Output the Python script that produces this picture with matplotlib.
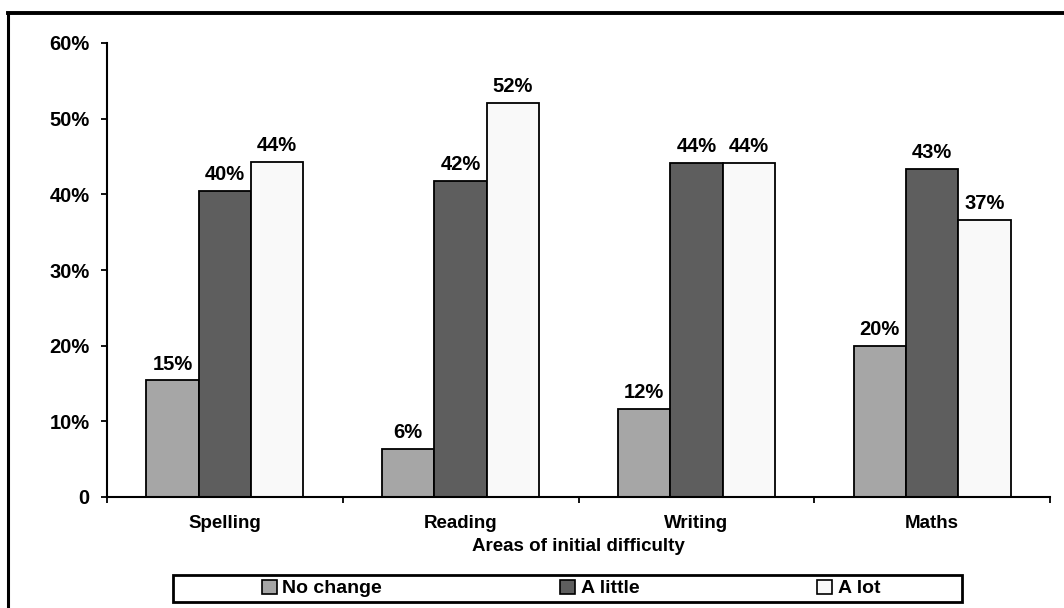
#!/usr/bin/env python3
"""Grouped bar chart: change in areas of initial difficulty."""

import matplotlib
matplotlib.use("Agg")
import matplotlib.pyplot as plt
from matplotlib.lines import Line2D
from matplotlib.patches import Rectangle, Patch
import numpy as np

categories = ["Spelling", "Reading", "Writing", "Maths"]
series_names = ["No change", "A little", "A lot"]
no_change = [15.4, 6.3, 11.6, 20.0]
a_little = [40.4, 41.8, 44.2, 43.4]
a_lot = [44.3, 52.1, 44.2, 36.6]
y_ticks = [0, 10, 20, 30, 40, 50, 60]
y_tick_labels = ["0", "10%", "20%", "30%", "40%", "50%", "60%"]

colors = ["#a6a6a6", "#5e5e5e", "#f9f9f9"]

plt.rcParams["font.family"] = ["Liberation Sans", "DejaVu Sans"]
plt.rcParams["font.weight"] = "bold"

W, H = 1064, 608
fig = plt.figure(figsize=(W / 100, H / 100), dpi=100)
ax = fig.add_axes([107 / W, 1 - 497 / H, (1050 - 107) / W, (497 - 43) / H])

x = np.arange(len(categories))
width = 0.222
for i, (vals, name) in enumerate(zip([no_change, a_little, a_lot], series_names)):
    bars = ax.bar(x + (i - 1) * width, vals, width, color=colors[i],
                  edgecolor="black", linewidth=1.3, label=name, zorder=2)
    for rect, v in zip(bars, vals):
        ax.annotate(f"{v:.0f}%", (rect.get_x() + rect.get_width() / 2, v),
                    xytext=(0, 5), textcoords="offset points",
                    ha="center", va="bottom", fontsize=14.5, fontweight="bold")

ax.set_xlim(-0.5, len(categories) - 0.5)
ax.set_ylim(0, 60)
ax.set_yticks(y_ticks)
ax.set_yticklabels(y_tick_labels)
ax.set_xticks(x)
ax.set_xticklabels(categories)
ax.set_xticks(np.arange(len(categories) + 1) - 0.5, minor=True)

ax.tick_params(axis="y", direction="out", length=4.5, width=1.3, pad=8,
               labelsize=14.5)
ax.tick_params(axis="x", which="major", length=0, pad=13, labelsize=13.5)
ax.tick_params(axis="x", which="minor", direction="out", length=4.5, width=1.3)
for lbl in ax.get_xticklabels() + ax.get_yticklabels():
    lbl.set_fontweight("bold")

for side in ("top", "right"):
    ax.spines[side].set_visible(False)
for side in ("left", "bottom"):
    ax.spines[side].set_linewidth(1.5)

ax.set_xlabel("Areas of initial difficulty", fontsize=13.5, fontweight="bold",
              labelpad=4)

# legend box drawn separately, entries spread across it
fig.add_artist(Rectangle((173 / W, 1 - 602 / H), (962 - 173) / W, 27 / H,
                         transform=fig.transFigure, fill=False,
                         edgecolor="black", linewidth=2))
handles = [Patch(facecolor=c, edgecolor="black", linewidth=1.2) for c in colors]
fig.legend(handles, series_names, ncol=3, mode="expand", frameon=False,
           bbox_to_anchor=(262 / W, 1 - 602 / H, (880 - 262) / W, 27 / H),
           loc="center", borderpad=0, borderaxespad=0,
           handlelength=0.75, handleheight=0.75, handletextpad=0.3,
           prop={"size": 14, "weight": "bold"})

# outer frame around the chart area
fig.add_artist(Line2D([8 / W, 1], [1 - 13 / H, 1 - 13 / H],
                      transform=fig.transFigure, color="black", linewidth=2.8))
fig.add_artist(Line2D([8 / W, 8 / W], [0, 1 - 13 / H],
                      transform=fig.transFigure, color="black", linewidth=2.2))

fig.savefig("out.png", dpi=100)
